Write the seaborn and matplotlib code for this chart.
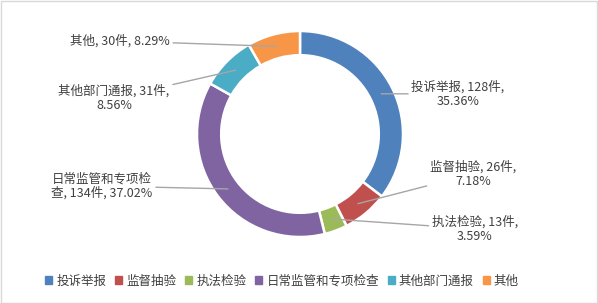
import numpy as np
import matplotlib
matplotlib.use("Agg")
import matplotlib.pyplot as plt
import seaborn as sns
from matplotlib.patches import Rectangle

categories = ["投诉举报", "监督抽验", "执法检验", "日常监管和专项检查", "其他部门通报", "其他"]
counts = [128, 26, 13, 134, 31, 30]
colors = ["#4F81BD", "#C0504D", "#9BBB59", "#8064A2", "#4BACC6", "#F79646"]
# label text layout (line breaks) as in the reference
label_templates = [
    "{c}, {n}件,\n{p}",
    "{c}, {n}件,\n{p}",
    "{c}, {n}件,\n{p}",
    "日常监管和专项检\n查, {n}件, {p}",
    "{c}, {n}件,\n{p}",
    "{c}, {n}件, {p}",
]

sns.set_theme(style="white")
plt.rcParams["font.family"] = ["Noto Sans CJK SC", "DejaVu Sans"]

W, H = 598, 303
cx, cy, R = 300, 134, 103  # pixel layout of the donut

fig = plt.figure(figsize=(W / 100, H / 100), dpi=100)
ax = fig.add_axes([0, 0, 1, 1])

def px(x, y):
    return ((x - cx) / R, (cy - y) / R)

width = 0.235
wedges, _ = ax.pie(counts, colors=colors, startangle=90, counterclock=False,
                   radius=1.0, wedgeprops=dict(width=width, edgecolor="white", linewidth=1.8))
ax.set_xlim(-cx / R, (W - cx) / R)
ax.set_ylim(-(H - cy) / R, cy / R)
ax.set_aspect("equal")
ax.axis("off")

total = sum(counts)
text_pos = [px(458, 94), px(473, 174), px(475, 229), px(102, 186), px(114, 98), px(120, 41)]
anchor_r = [0.88, 0.88, 0.88, 0.88, 0.88, 0.88]
text_color = "#404040"
for i, w in enumerate(wedges):
    ang = np.deg2rad((w.theta1 + w.theta2) / 2)
    r = anchor_r[i]
    xy = (r * np.cos(ang), r * np.sin(ang))
    pct = f"{counts[i] / total * 100:.2f}%"
    txt = label_templates[i].format(c=categories[i], n=counts[i], p=pct)
    ax.annotate(txt, xy=xy, xytext=text_pos[i], ha="center", va="center",
                fontsize=9, color=text_color, multialignment="center", linespacing=1.1,
                arrowprops=dict(arrowstyle="-", color="#A6A6A6", lw=1.0,
                                shrinkA=0, shrinkB=0))

handles = [plt.Rectangle((0, 0), 1, 1, color=c) for c in colors]
leg = fig.legend(handles, categories, loc="center", bbox_to_anchor=(282 / W, 1 - 281 / H),
                 ncol=6, frameon=False, fontsize=9, handlelength=0.55, handleheight=0.55,
                 handletextpad=0.35, columnspacing=0.7, labelcolor=text_color)

fig.patches.append(Rectangle((0.5 / W, 0.5 / H), 1 - 1.5 / W, 1 - 1.5 / H, transform=fig.transFigure,
                             fill=False, edgecolor="#D9D9D9", linewidth=1.0))

fig.savefig("out.png", dpi=100, facecolor="white")
